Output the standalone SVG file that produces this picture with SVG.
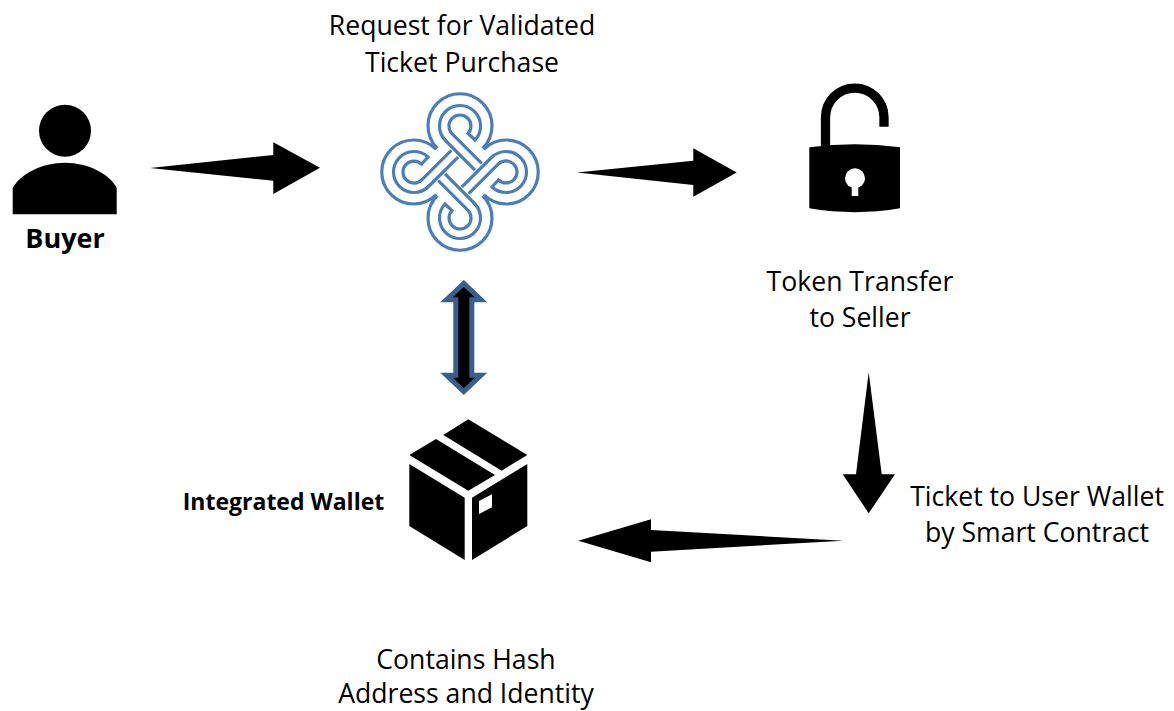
<svg xmlns="http://www.w3.org/2000/svg" xmlns:xlink="http://www.w3.org/1999/xlink" width="1174" height="711" viewBox="0 0 1174 711">
<style>
text{font-family:"Open Sans","Noto Sans","Liberation Sans",sans-serif;fill:#000;text-anchor:middle}
.l{font-size:26.6px}
.b{font-weight:700}
.k{fill:none;stroke:#4a7ebb;stroke-width:3.2;stroke-linejoin:miter}
.a{fill:#000}
.w{fill:#fff}
</style>
<defs>
<g id="lobe">
<path class="k" d="M-22.7,-23.7A32,32 0 1 1 22.7,-23.7"/>
<path class="k" d="M21.7,-8.7L-7.8,-38.2A11,11 0 1 1 8,-38.5L15,-32A20.5,20.5 0 1 0 -14.5,-31.5L14.9,-1.9"/>
</g>
</defs>
<rect width="1174" height="711" fill="#fff"/>
<g id="connectors">
<polygon class="a" points="150,168 273.3,155 273.3,142.3 320,167.7 273.3,194 273.3,180.7"/>
<polygon class="a" points="577,172.5 693.3,160.7 693.3,148.3 736.7,172.5 693.3,196.7 693.3,185"/>
<polygon class="a" points="868.7,372.3 881.7,474.3 895,474.3 868.7,513.3 842.7,474.3 856,474.3"/>
<polygon class="a" points="843.3,540.7 651,551.7 651,562.3 578.3,540.7 651,519.3 651,530"/>
<polygon points="463.8,283.4 481,299.8 471.8,299.8 471.8,375.2 481,375.2 463.8,391.6 446.5,375.2 455.8,375.2 455.8,299.8 446.5,299.8" fill="#000" stroke="#37608f" stroke-width="5"/>
</g>
<g id="buyer">
<circle class="a" cx="65" cy="130.7" r="26"/>
<path class="a" d="M12.7,214.3V188C20,174 42,162.7 65,162.7S110,174 116.7,188V214.3Z"/>
<text class="b" x="65" y="248" font-size="27">Buyer</text>
</g>
<g id="request">
<g transform="translate(460 172)">
<use xlink:href="#lobe" href="#lobe"/>
<use xlink:href="#lobe" href="#lobe" transform="rotate(90)"/>
<use xlink:href="#lobe" href="#lobe" transform="rotate(180)"/>
<use xlink:href="#lobe" href="#lobe" transform="rotate(270)"/>
</g>
<text class="l" x="462" y="35">Request for Validated</text>
<text class="l" x="462" y="72">Ticket Purchase</text>
</g>
<g id="token-transfer">
<path d="M825.5,147V117.3A29.25,29.25 0 0 1 884,117.3V126.7" fill="none" stroke="#000" stroke-width="9.3"/>
<path class="a" d="M809.3,147.3Q855,141 900,147.3V208.3Q855,216 809.3,208.3Z"/>
<circle class="w" cx="855" cy="178.3" r="10"/>
<rect class="w" x="851.7" y="180" width="6.6" height="16"/>
<text class="l" x="860" y="291">Token Transfer</text>
<text class="l" x="860" y="327">to Seller</text>
</g>
<g id="ticket-to-wallet">
<text class="l" x="1037" y="506">Ticket to User Wallet</text>
<text class="l" x="1037" y="542">by Smart Contract</text>
</g>
<g id="wallet">
<polygon class="a" points="468.3,419.3 527.3,455 501.7,470.7 443.3,435"/>
<polygon class="a" points="436,439 495,475 468.3,490.7 409.3,455"/>
<polygon class="a" points="409.3,464 464.7,497.7 464.7,560 409.3,526"/>
<path class="a" d="M527.3,464L472,497.7V560L527.3,526ZM479,501L492,494.3V507.3L479,514Z" fill-rule="evenodd"/>
<text class="b" x="283.5" y="510" font-size="23">Integrated Wallet</text>
<text class="l" x="466" y="669">Contains Hash</text>
<text class="l" x="466" y="703">Address and Identity</text>
</g>
</svg>
